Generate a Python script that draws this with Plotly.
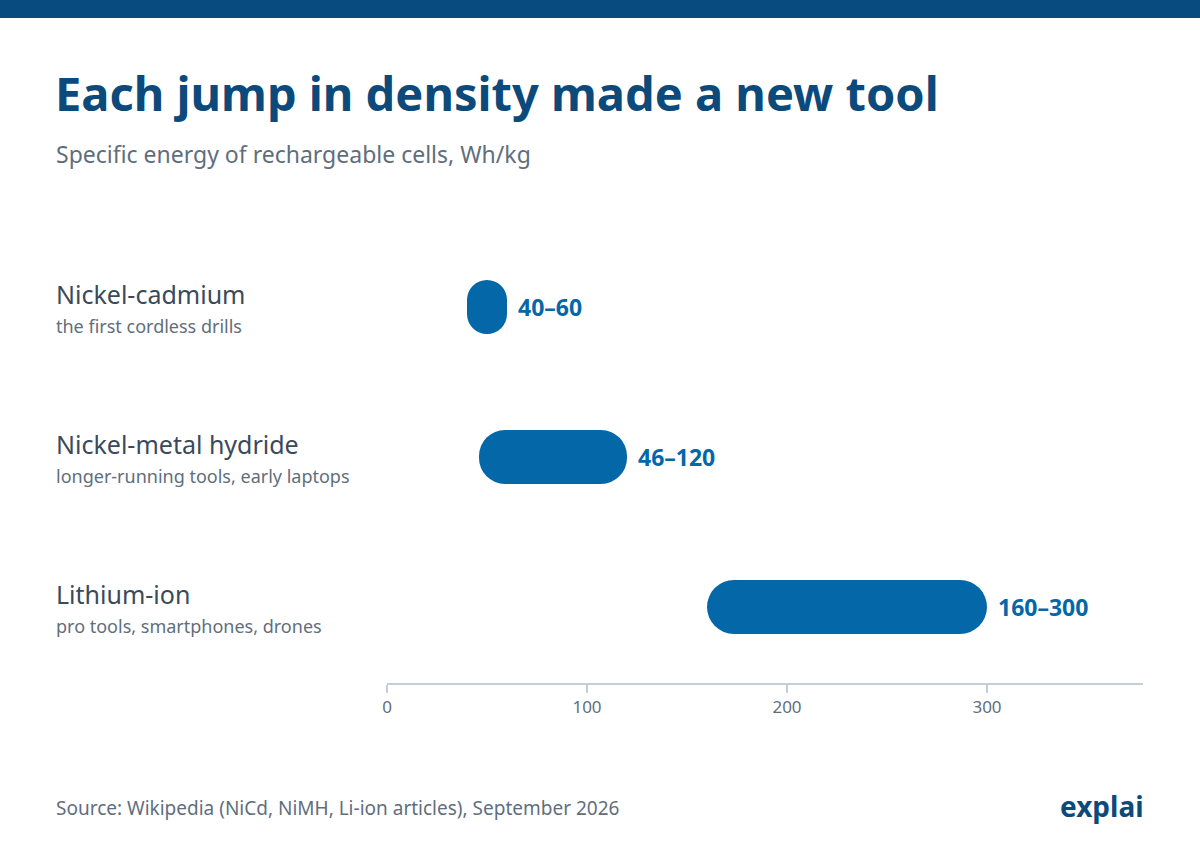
import plotly.graph_objects as go

categories = ["Nickel-cadmium", "Nickel-metal hydride", "Lithium-ion"]
subtitles = ["the first cordless drills", "longer-running tools, early laptops", "pro tools, smartphones, drones"]
low = [40, 46, 160]
high = [60, 120, 300]
labels = ["40–60", "46–120", "160–300"]
tickvals = [0, 100, 200, 300]

W, H = 1200, 860
L, R, T, B = 387, 57, 232, 177
pw = W - L - R
FONT = "Noto Sans"
BLUE = "#0467a8"
DARK = "#0b4a7a"

ypos = [2, 1, 0]
fig = go.Figure(go.Bar(
    y=ypos, x=[h - l for l, h in zip(low, high)], base=low, orientation="h",
    width=0.36, marker=dict(color=BLUE, cornerradius=27, line=dict(width=0)),
    hoverinfo="skip"))

ann = []
for yp, c, s, h, lab in zip(ypos, categories, subtitles, high, labels):
    ann.append(dict(x=(54 - L) / pw, xref="paper", y=yp, yref="y", text=c, showarrow=False,
                    xanchor="left", yanchor="middle", yshift=13,
                    font=dict(family=FONT, size=25, color="#3a4a5a")))
    ann.append(dict(x=(54 - L) / pw, xref="paper", y=yp, yref="y", text=s, showarrow=False,
                    xanchor="left", yanchor="middle", yshift=-19,
                    font=dict(family=FONT, size=18, color="#5f6e7d")))
    ann.append(dict(x=h, xref="x", y=yp, yref="y", text=f"<b>{lab}</b>", showarrow=False,
                    xanchor="left", yanchor="middle", xshift=9,
                    font=dict(family=FONT, size=23, color=BLUE)))

def px(xp, yp):
    return (xp - L) / pw, (H - B - yp) / (H - T - B)

for xp, yp, txt, anc, size, col in [
    (53, 93, "<b>Each jump in density made a new tool</b>", "left", 47, DARK),
    (54, 154, "Specific energy of rechargeable cells, Wh/kg", "left", 23, "#5f6e7d"),
    (54, 808, "Source: Wikipedia (NiCd, NiMH, Li-ion articles), September 2026", "left", 19, "#5f6e7d"),
    (1146, 806, "<b>explai</b>", "right", 28, DARK),
]:
    x, y = px(xp, yp)
    ann.append(dict(x=x, y=y, xref="paper", yref="paper", text=txt, showarrow=False,
                    xanchor=anc, yanchor="middle", font=dict(family=FONT, size=size, color=col)))

fig.update_layout(
    width=W, height=H, margin=dict(l=L, r=R, t=T, b=B),
    paper_bgcolor="white", plot_bgcolor="white", showlegend=False,
    annotations=ann,
    shapes=[dict(type="rect", xref="paper", yref="paper", x0=-1, x1=2,
                 y0=(H - B) / (H - T - B) - 18 / (H - T - B), y1=(H - B) / (H - T - B) + 0.1,
                 fillcolor="#084c7f", line=dict(width=0), layer="above")],
    xaxis=dict(range=[0, 378], tickvals=tickvals, showgrid=False, zeroline=False,
               showline=True, linecolor="#c3ced9", linewidth=2, ticks="outside",
               ticklen=8, tickcolor="#c3ced9", tickwidth=2,
               tickfont=dict(family=FONT, size=17, color="#5f6e7d")),
    yaxis=dict(range=[-0.507, 2.5], visible=False, fixedrange=True),
)
fig.write_html("out.html", config={"displayModeBar": False},
               post_script="document.body.style.margin='0';document.body.style.padding='0';")
